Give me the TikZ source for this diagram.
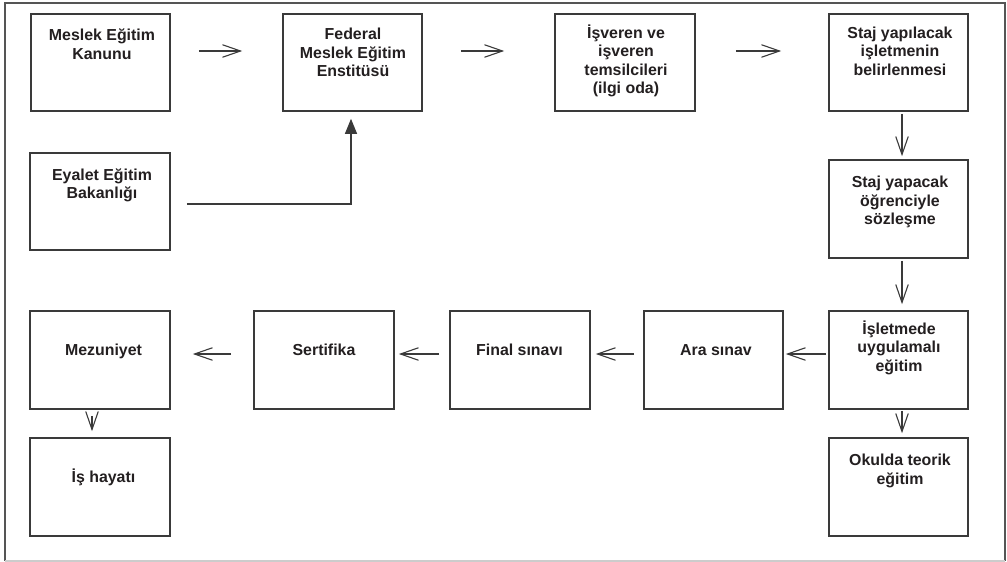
\documentclass[tikz,border=0pt]{standalone}
\usepackage{fontspec}
\setmainfont{Liberation Sans}
\usetikzlibrary{arrows.meta}
\definecolor{boxc}{HTML}{3A3A3A}
\definecolor{txt}{HTML}{231F20}
\definecolor{framec}{HTML}{555555}
\begin{document}
\begin{tikzpicture}[x=1pt,y=-1pt,
  box/.style={draw=boxc, line width=1.6pt, inner sep=0pt, fill=white},
  lbl/.style={font=\fontsize{15.9}{18.4}\selectfont\bfseries, align=center, inner sep=0pt, text=txt, anchor=base},
  arr/.style={draw=boxc, line width=1.1pt, -{Straight Barb[length=18pt,width=12.5pt]}},
  farr/.style={draw=boxc, line width=1.1pt, -{Triangle[length=15pt,width=12pt]}}]
\useasboundingbox (0,0) rectangle (1007,562);
% frame
\draw[draw=framec, line width=1.5pt] (5,561) -- (5,3) -- (1005,3) -- (1005,561);
\draw[draw=black!20, line width=1.5pt] (5,561) -- (1005,561);
% boxes
\node[box, minimum width=139pt, minimum height=97pt] (meslek) at (100.5,62.5) {};
\node[box, minimum width=139pt, minimum height=97pt] (federal) at (352.5,62.5) {};
\node[box, minimum width=140pt, minimum height=97pt] (isveren) at (625,62.5) {};
\node[box, minimum width=139pt, minimum height=97pt] (stajA) at (898.5,62.5) {};
\node[box, minimum width=140pt, minimum height=97pt] (eyalet) at (100,201.5) {};
\node[box, minimum width=139pt, minimum height=98pt] (stajB) at (898.5,209) {};
\node[box, minimum width=139pt, minimum height=98pt] (isletme) at (898.5,360) {};
\node[box, minimum width=139pt, minimum height=98pt] (okul) at (898.5,487) {};
\node[box, minimum width=139pt, minimum height=98pt] (ara) at (713.5,360) {};
\node[box, minimum width=140pt, minimum height=98pt] (final) at (520,360) {};
\node[box, minimum width=140pt, minimum height=98pt] (sert) at (324,360) {};
\node[box, minimum width=140pt, minimum height=98pt] (mezun) at (100,360) {};
\node[box, minimum width=140pt, minimum height=98pt] (ishayati) at (100,487) {};
% texts (anchor = baseline of last line)
\node[lbl] (meslekT) at (102,59.2) {Meslek Eğitim\\Kanunu};
\node[lbl] (federalT) at (353,76.5) {Federal\\Meslek Eğitim\\Enstitüsü};
\node[lbl] (isverenT) at (626,93.5) {İşveren ve\\işveren\\temsilcileri\\(ilgi oda)};
\node[lbl] (stajAT) at (900,75) {Staj yapılacak\\işletmenin\\belirlenmesi};
\node[lbl] (eyaletT) at (102,198.7) {Eyalet Eğitim\\Bakanlığı};
\node[lbl] (stajBT) at (900,224.5) {Staj yapacak\\öğrenciyle\\sözleşme};
\node[lbl] (isletmeT) at (899,371) {İşletmede\\uygulamalı\\eğitim};
\node[lbl] (okulT) at (900,484.2) {Okulda teorik\\eğitim};
\node[lbl] (araT) at (716,355.5) {Ara sınav};
\node[lbl] (finalT) at (519.5,355) {Final sınavı};
\node[lbl] (sertT) at (324,355) {Sertifika};
\node[lbl] (mezunT) at (103.5,355) {Mezuniyet};
\node[lbl] (isT) at (103.5,482.7) {İş hayatı};
% connectors
\draw[arr, shorten <=28pt, shorten >=40pt] (meslek.east |- 0,51) -- (federal.west |- 0,51);
\draw[arr, shorten <=38pt, shorten >=50pt] (federal.east |- 0,51) -- (isveren.west |- 0,51);
\draw[arr, shorten <=40pt, shorten >=47pt] (isveren.east |- 0,51) -- (stajA.west |- 0,51);
\draw[arr, shorten <=2pt, shorten >=3pt] (stajA.south -| 902,0) -- (stajB.north -| 902,0);
\draw[arr, shorten <=2pt, shorten >=6pt] (stajB.south -| 902,0) -- (isletme.north -| 902,0);
\draw[arr, shorten <=1pt, shorten >=4pt] (isletme.south -| 902,0) -- (okul.north -| 902,0);
\draw[arr, shorten <=2pt, shorten >=2pt] (isletme.west |- 0,354) -- (ara.east |- 0,354);
\draw[arr, shorten <=9pt, shorten >=5pt] (ara.west |- 0,354) -- (final.east |- 0,354);
\draw[arr, shorten <=10pt, shorten >=4pt] (final.west |- 0,354) -- (sert.east |- 0,354);
\draw[arr, shorten <=22pt, shorten >=22pt] (sert.west |- 0,354) -- (mezun.east |- 0,354);
\draw[arr, shorten <=6pt, shorten >=6pt] (mezun.south -| 92,0) -- (ishayati.north -| 92,0);
\draw[farr, shorten <=16pt, shorten >=7pt] (eyalet.east |- 0,204) -| (federal.south -| 351,0);
\end{tikzpicture}
\end{document}
